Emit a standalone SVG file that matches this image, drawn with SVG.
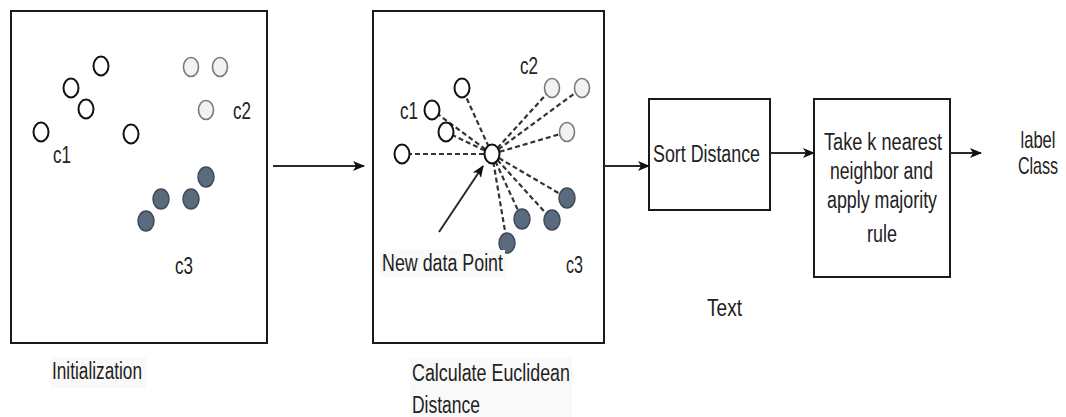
<svg xmlns="http://www.w3.org/2000/svg" width="1066" height="417" viewBox="0 0 1066 417">
  <style>
    text { font-family: "Liberation Sans", Arial, sans-serif; font-size: 23px; fill: #222; }
    .out { text-anchor: middle; }
    .box { fill: #fff; stroke: #1a1a1a; stroke-width: 2; }
    .p1 { fill: #fff; stroke: #111; stroke-width: 2; }
    .p2 { fill: #f2f2f2; stroke: #7a7a7a; stroke-width: 1.6; }
    .p3 { fill: #5b6b7e; stroke: #3e4a58; stroke-width: 1.5; }
    .dash { stroke: #333; stroke-width: 2.2; stroke-dasharray: 5 3; fill: none; }
    .edge { stroke: #2a2a2a; stroke-width: 2; fill: none; marker-end: url(#arrow); }
    .bg { fill: #f9f9f9; }
  </style>
  <defs>
    <marker id="arrow" markerUnits="userSpaceOnUse" markerWidth="12" markerHeight="10" refX="11" refY="5" orient="auto">
      <path d="M0,0 L12,5 L0,10 L3,5 z" fill="#111"/>
    </marker>
  </defs>

  <rect width="1066" height="417" fill="#fff"/>

  <!-- Panel 1: initial labelled points -->
  <g id="initialization">
    <rect class="box" x="11" y="11" width="256" height="332"/>
    <ellipse class="p1" cx="101" cy="66" rx="7.5" ry="9.5"/>
    <ellipse class="p1" cx="71" cy="88" rx="7.5" ry="9.5"/>
    <ellipse class="p1" cx="86" cy="109" rx="7.5" ry="9.5"/>
    <ellipse class="p1" cx="41" cy="132" rx="7.5" ry="9.5"/>
    <ellipse class="p1" cx="131" cy="134" rx="7.5" ry="9.5"/>
    <ellipse class="p2" cx="191" cy="67" rx="7.5" ry="9.5"/>
    <ellipse class="p2" cx="220" cy="67" rx="7.5" ry="9.5"/>
    <ellipse class="p2" cx="206" cy="110" rx="7.5" ry="9.5"/>
    <ellipse class="p3" cx="206" cy="177" rx="8" ry="10"/>
    <ellipse class="p3" cx="191" cy="199" rx="8" ry="10"/>
    <ellipse class="p3" cx="161" cy="199" rx="8" ry="10"/>
    <ellipse class="p3" cx="146" cy="221" rx="8" ry="10"/>
    <text x="53" y="163" textLength="18" lengthAdjust="spacingAndGlyphs">c1</text>
    <text x="233" y="119" textLength="18" lengthAdjust="spacingAndGlyphs">c2</text>
    <text x="175" y="274" textLength="18" lengthAdjust="spacingAndGlyphs">c3</text>
    <rect class="bg" x="50" y="357" width="96" height="31"/>
    <text x="52" y="379" textLength="90" lengthAdjust="spacingAndGlyphs">Initialization</text>
  </g>

  <!-- Panel 2: distances from the new point -->
  <g id="euclidean">
    <rect class="box" x="373" y="11" width="231" height="332"/>
    <g id="distance-lines">
      <line class="dash" x1="492" y1="154" x2="462" y2="88"/>
      <line class="dash" x1="492" y1="154" x2="432" y2="110"/>
      <line class="dash" x1="492" y1="154" x2="446" y2="132"/>
      <line class="dash" x1="492" y1="154" x2="402" y2="154"/>
      <line class="dash" x1="492" y1="154" x2="552" y2="88"/>
      <line class="dash" x1="492" y1="154" x2="582" y2="88"/>
      <line class="dash" x1="492" y1="154" x2="567" y2="132"/>
      <line class="dash" x1="492" y1="154" x2="567" y2="198"/>
      <line class="dash" x1="492" y1="154" x2="552" y2="220"/>
      <line class="dash" x1="492" y1="154" x2="522" y2="219"/>
      <line class="dash" x1="492" y1="154" x2="507" y2="243"/>
    </g>
    <ellipse class="p1" cx="462" cy="88" rx="7.5" ry="9.5"/>
    <ellipse class="p1" cx="432" cy="110" rx="7.5" ry="9.5"/>
    <ellipse class="p1" cx="446" cy="132" rx="7.5" ry="9.5"/>
    <ellipse class="p1" cx="402" cy="154" rx="7.5" ry="9.5"/>
    <ellipse class="p1" cx="492" cy="154" rx="7.5" ry="9.5"/>
    <ellipse class="p2" cx="552" cy="88" rx="7.5" ry="9.5"/>
    <ellipse class="p2" cx="582" cy="88" rx="7.5" ry="9.5"/>
    <ellipse class="p2" cx="567" cy="132" rx="7.5" ry="9.5"/>
    <ellipse class="p3" cx="567" cy="198" rx="8" ry="10"/>
    <ellipse class="p3" cx="552" cy="220" rx="8" ry="10"/>
    <ellipse class="p3" cx="522" cy="219" rx="8" ry="10"/>
    <ellipse class="p3" cx="507" cy="243" rx="8" ry="10"/>
    <text x="400" y="119" textLength="18" lengthAdjust="spacingAndGlyphs">c1</text>
    <text x="520" y="74" textLength="18" lengthAdjust="spacingAndGlyphs">c2</text>
    <text x="566" y="273" textLength="17" lengthAdjust="spacingAndGlyphs">c3</text>
    <line class="edge" x1="439" y1="232" x2="483" y2="166"/>
    <rect class="bg" x="380" y="250" width="125" height="27"/>
    <text x="382" y="271" textLength="121" lengthAdjust="spacingAndGlyphs">New data Point</text>
    <rect class="bg" x="410" y="358" width="162" height="59"/>
    <text x="412" y="381" textLength="158" lengthAdjust="spacingAndGlyphs">Calculate Euclidean</text>
    <text x="412" y="413" textLength="68" lengthAdjust="spacingAndGlyphs">Distance</text>
  </g>

  <!-- Step 3 -->
  <g id="sort-distance">
    <rect class="box" x="649" y="99" width="121" height="111"/>
    <text x="653" y="162" textLength="107" lengthAdjust="spacingAndGlyphs">Sort Distance</text>
  </g>

  <!-- Step 4 -->
  <g id="majority-vote">
    <rect class="box" x="814" y="99" width="136" height="178"/>
    <text x="824" y="150" textLength="118" lengthAdjust="spacingAndGlyphs">Take k nearest</text>
    <text x="830" y="179" textLength="103" lengthAdjust="spacingAndGlyphs">neighbor and</text>
    <text x="827" y="208" textLength="110" lengthAdjust="spacingAndGlyphs">apply majority</text>
    <text x="867" y="242" textLength="30" lengthAdjust="spacingAndGlyphs">rule</text>
  </g>

  <!-- Output, narrowed horizontally like the other labels -->
  <g id="label-class">
    <text class="out" transform="translate(1038,148) scale(0.72,1)">label</text>
    <text class="out" transform="translate(1038,174) scale(0.7,1)">Class</text>
  </g>

  <g id="free-text">
    <text x="707" y="316" textLength="35" lengthAdjust="spacingAndGlyphs">Text</text>
  </g>

  <g id="connectors">
    <line class="edge" x1="273" y1="166" x2="364" y2="166"/>
    <line class="edge" x1="604" y1="166" x2="649" y2="166"/>
    <line class="edge" x1="770" y1="153" x2="814" y2="153"/>
    <line class="edge" x1="950" y1="153" x2="981" y2="153"/>
  </g>
</svg>
